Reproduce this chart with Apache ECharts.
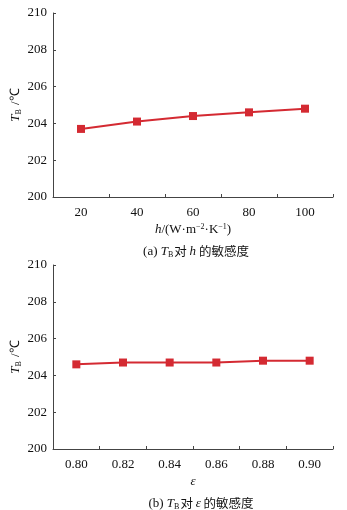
<!DOCTYPE html>
<html><head><meta charset="utf-8">
<script src="https://cdn.jsdelivr.net/npm/echarts@6/dist/echarts.min.js"></script>
<style>html,body{margin:0;padding:0;background:#fff}#c{width:347px;height:510px}</style>
</head><body><div id="c"></div>
<script>
var hCategories = ['20','40','60','80','100'];
var hValues = [203.7, 204.1, 204.4, 204.6, 204.8];
var epsCategories = ['0.80','0.82','0.84','0.86','0.88','0.90'];
var epsValues = [204.6, 204.7, 204.7, 204.7, 204.8, 204.8];
var yTicks = [200, 202, 204, 206, 208, 210];

var serif = '"Liberation Serif","Times New Roman",serif';
var axisColor = '#444';
var textColor = '#111';
var red = '#d42a32';

var richBase = {
  it: {fontFamily: serif, fontStyle: 'italic', fontWeight: 'normal', fontSize: 13, color: textColor},
  sub: {fontFamily: serif, fontWeight: 'normal', fontSize: 8, color: textColor, padding: [7,1,0,0]},
  sup: {fontFamily: serif, fontWeight: 'normal', fontSize: 8, color: textColor, padding: [0,0,6,0]},
  n: {fontFamily: serif, fontWeight: 'normal', fontSize: 13, color: textColor},
  cj: {fontFamily: '"Noto Sans CJK SC",sans-serif', fontWeight: 'normal', fontSize: 12.5, color: textColor}
};

function yAxisCfg(idx) {
  return {
    type: 'value', gridIndex: idx, min: yTicks[0], max: yTicks[yTicks.length-1], interval: 2,
    axisLine: {show: true, lineStyle: {color: axisColor, width: 1}},
    axisTick: {show: true, inside: true, length: 3, lineStyle: {color: axisColor}},
    splitLine: {show: false},
    axisLabel: {fontFamily: serif, fontSize: 13, color: textColor, margin: 6},
    name: '{it|T}{sub|B}{n| /℃}', nameLocation: 'middle', nameGap: 30, nameRotate: 90,
    nameMoveOverlap: false,
    nameTextStyle: {rich: richBase}
  };
}
function xAxisCfg(idx, cats, name) {
  return {
    type: 'category', gridIndex: idx, data: cats, boundaryGap: true,
    axisLine: {show: true, lineStyle: {color: axisColor, width: 1}},
    axisTick: {show: true, inside: true, length: 3, alignWithLabel: false, lineStyle: {color: axisColor}},
    axisLabel: {fontFamily: serif, fontSize: 13, color: textColor, margin: 9},
    name: name, nameLocation: 'middle', nameGap: 26, nameMoveOverlap: false,
    nameTextStyle: {rich: richBase}
  };
}
function seriesCfg(idx, vals) {
  return {
    type: 'line', xAxisIndex: idx, yAxisIndex: idx, data: vals,
    symbol: 'rect', symbolSize: 8, showSymbol: true,
    lineStyle: {color: red, width: 2}, itemStyle: {color: red},
    animation: false
  };
}

var chart = echarts.init(document.getElementById('c'), null, {renderer: 'canvas'});
chart.setOption({
  animation: false,
  backgroundColor: '#fff',
  grid: [
    {left: 53, top: 13, width: 280, height: 184, containLabel: false, outerBoundsMode: 'none'},
    {left: 53, top: 265, width: 280, height: 184, containLabel: false, outerBoundsMode: 'none'}
  ],
  xAxis: [
    xAxisCfg(0, hCategories, '{it|h}{n|/(W·m}{sup|−2}{n|·K}{sup|−1}{n|)}'),
    xAxisCfg(1, epsCategories, '{it|ε}')
  ],
  yAxis: [yAxisCfg(0), yAxisCfg(1)],
  title: [
    {text: '{n|(a) }{it|T}{sub|B}{cj|对 }{it|h}{cj| 的敏感度}', left: 191, top: 239, textAlign: 'center',
     textStyle: {fontWeight: 'normal', rich: richBase}},
    {text: '{n|(b) }{it|T}{sub|B}{cj|对 }{it|ε}{cj| 的敏感度}', left: 196, top: 491, textAlign: 'center',
     textStyle: {fontWeight: 'normal', rich: richBase}}
  ],
  series: [seriesCfg(0, hValues), seriesCfg(1, epsValues)]
});
</script></body></html>
